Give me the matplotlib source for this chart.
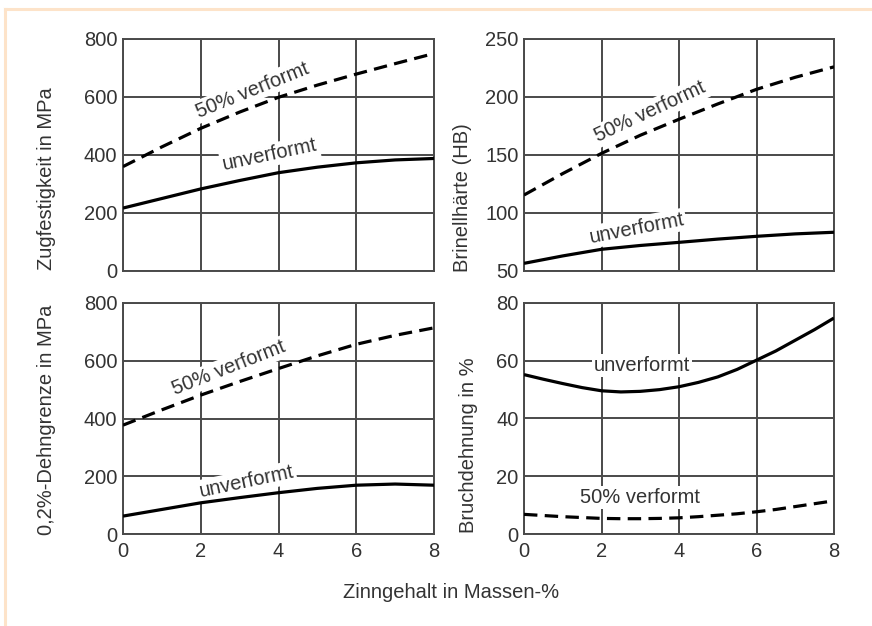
import matplotlib
matplotlib.use("Agg")
import matplotlib.pyplot as plt
from matplotlib.lines import Line2D

plt.rcParams['font.family'] = ['Liberation Sans', 'DejaVu Sans']

# ---- data ----
sn = [0, 1, 2, 3, 4, 5, 6, 7, 8]  # Zinngehalt in Massen-%

zug_unv = [217, 250, 283, 312, 339, 358, 373, 383, 388]
zug_50 = [360, 428, 492, 548, 599, 641, 679, 715, 750]

hb_unv = [56.6, 63, 68.7, 72, 74.7, 77.5, 79.9, 82, 83.4]
hb_50 = [115.5, 134, 151.4, 167, 180.8, 194, 206.6, 217, 226]

rp_unv = [62, 85, 108, 126, 143, 158, 169, 173, 169]
rp_50 = [377, 430, 481, 528, 573, 617, 657, 688, 714]

sn_a = [0, 0.5, 1, 1.5, 2, 2.5, 3, 3.5, 4, 4.5, 5, 5.5, 6, 6.5, 7, 7.5, 8]
a_unv = [55.2, 53.6, 52.1, 50.7, 49.6, 49.2, 49.4, 50.0, 51, 52.5, 54.4, 57.0,
         60.2, 63.4, 67.1, 70.8, 74.8]
a_50 = [6.8, 6.4, 6.0, 5.7, 5.4, 5.3, 5.3, 5.4, 5.6, 6.0, 6.5, 7.0,
        7.7, 8.5, 9.5, 10.5, 11.5]

xticks = [0, 2, 4, 6, 8]
yticks_zug = [0, 200, 400, 600, 800]
yticks_hb = [50, 100, 150, 200, 250]
yticks_rp = [0, 200, 400, 600, 800]
yticks_a = [0, 20, 40, 60, 80]

ylabels = ["Zugfestigkeit in MPa", "Brinellhärte (HB)",
           "0,2%-Dehngrenze in MPa", "Bruchdehnung in %"]
xlabel = "Zinngehalt in Massen-%"
lab_unv = "unverformt"
lab_50 = "50% verformt"

W, H = 872, 626
fig = plt.figure(figsize=(W / 100, H / 100), dpi=100)
fig.patch.set_facecolor("white")

grid_c = "#4a4a4a"
text_c = "#333333"
fs = 14.5

def px(l, t, r, b):
    return [l / W, 1 - b / H, (r - l) / W, (b - t) / H]

axes_rects = [px(123, 39, 434, 271), px(524, 39, 834, 271),
              px(123, 303, 434, 534), px(524, 303, 834, 534)]
series = [(sn, zug_unv, zug_50, yticks_zug), (sn, hb_unv, hb_50, yticks_hb),
          (sn, rp_unv, rp_50, yticks_rp), (sn_a, a_unv, a_50, yticks_a)]

# annotation positions: (x, y, rotation) for unverformt, 50%
annots = [
    ((3.78, 400, 12), (3.34, 624, 22)),
    ((2.91, 86.8, 11), (3.25, 187, 25)),
    ((3.18, 181, 12), (2.71, 574, 21.5)),
    ((3.04, 58.2, 0), (2.99, 12.7, 0)),
]

for i, (rect, (xs, unv, v50, yt), (an_u, an_5)) in enumerate(zip(axes_rects, series, annots)):
    ax = fig.add_axes(rect)
    ax.set_xlim(0, 8)
    ax.set_ylim(yt[0], yt[-1])
    ax.set_xticks(xticks)
    ax.set_yticks(yt)
    ax.grid(True, color=grid_c, linewidth=1.4)
    ax.set_axisbelow(True)
    for s in ax.spines.values():
        s.set_color(grid_c)
        s.set_linewidth(1.4)
    ax.tick_params(length=0, labelsize=fs, colors=text_c, pad=4)
    if i < 2:
        ax.tick_params(labelbottom=False)
    else:
        ax.tick_params(axis='x', pad=6)
    ax.plot(xs, unv, color="black", linewidth=2.3, solid_capstyle='butt', zorder=3)
    ax.plot(xs, v50, color="black", linewidth=2.3, linestyle=(0, (4.2, 2.3)),
            dash_capstyle='butt', zorder=3)
    bb = dict(facecolor="white", edgecolor="none", pad=1.5)
    ax.text(an_u[0], an_u[1], lab_unv, rotation=an_u[2], rotation_mode='anchor',
            ha='center', va='center', fontsize=fs, color=text_c, bbox=bb, zorder=2)
    ax.text(an_5[0], an_5[1], lab_50, rotation=an_5[2], rotation_mode='anchor',
            ha='center', va='center', fontsize=fs, color=text_c, bbox=bb, zorder=2)

# y labels
ylab_pos = [(47, 270), (463, 272), (47, 535), (468, 533)]
for lab, (x, yb) in zip(ylabels, ylab_pos):
    fig.text(x / W, 1 - yb / H, lab, rotation=90, ha='center', va='bottom',
             fontsize=fs, color=text_c)

fig.text(451.5 / W, 1 - 592 / H, xlabel, ha='center', va='center',
         fontsize=fs, color=text_c)

# faint frame lines
fig.add_artist(Line2D([4.5 / W, 4.5 / W], [0, 1 - 9 / H], transform=fig.transFigure,
                      color="#fde3c9", linewidth=2.2))
fig.add_artist(Line2D([4.5 / W, 1], [1 - 9 / H, 1 - 9 / H], transform=fig.transFigure,
                      color="#fde3c9", linewidth=2.2))

fig.savefig("out.png", dpi=100)
